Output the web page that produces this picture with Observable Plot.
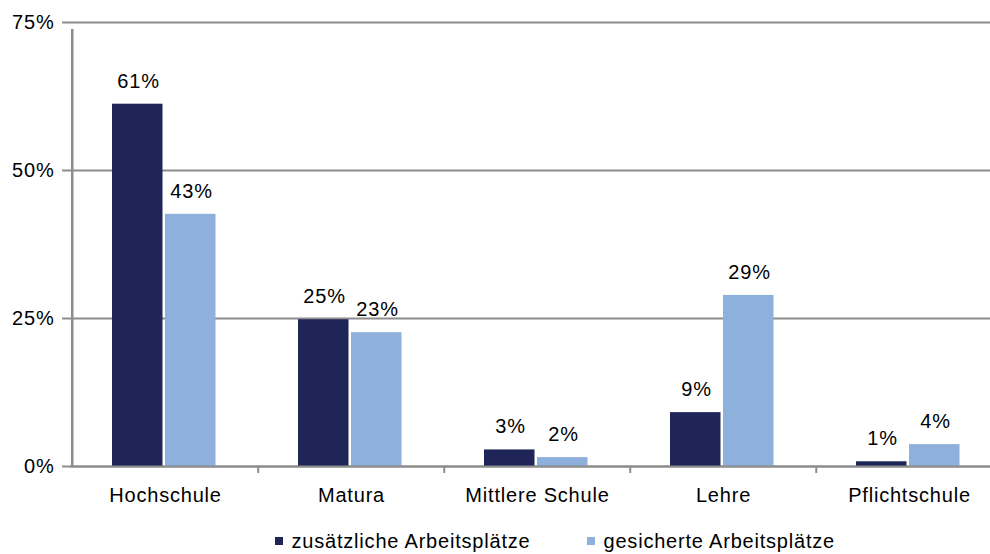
<!DOCTYPE html>
<html><head><meta charset="utf-8">
<script src="https://cdn.jsdelivr.net/npm/d3@7"></script>
<script src="https://cdn.jsdelivr.net/npm/@observablehq/plot@0.6"></script>
<style>
body{margin:0;background:#fff;font-family:"Liberation Sans",Arial,sans-serif;}
#wrap{position:relative;width:990px;height:554px;overflow:hidden;}
#legend{position:absolute;top:530px;left:275px;display:flex;font-size:20px;letter-spacing:0.8px;color:#000;line-height:22px;}
.item{display:flex;align-items:center;}
.sw{width:7.5px;height:7.5px;margin-right:9px;}
</style></head><body>
<div id="wrap"><div id="chart"></div>
<div id="legend">
<div class="item" style="width:312px"><span class="sw" style="background:#1f2557"></span>zusätzliche Arbeitsplätze</div>
<div class="item"><span class="sw" style="background:#8db0dc"></span>gesicherte Arbeitsplätze</div>
</div></div>
<script>
const categories = ["Hochschule","Matura","Mittlere Schule","Lehre","Pflichtschule"];
const seriesNames = ["zusätzliche Arbeitsplätze","gesicherte Arbeitsplätze"];
const zusaetzlich = [61.2, 24.8, 2.8, 9.1, 0.8];
const gesichert = [42.6, 22.6, 1.5, 28.9, 3.7];
const yTicks = [0, 25, 50, 75];

const rowsA = categories.map((c,i)=>({cat:c, v:zusaetzlich[i]}));
const rowsB = categories.map((c,i)=>({cat:c, v:gesichert[i]}));
const dark = "#1f2557", light = "#8db0dc", grid = "#8c8c8c";
const band = 186.5;

const chart = Plot.plot({
  width: 990, height: 520,
  marginLeft: 70, marginRight: 0, marginTop: 22, marginBottom: 54,
  style: {fontFamily: '"Liberation Sans", Arial, sans-serif', fontSize: "20px", color: "#000", letterSpacing: "0.8px", overflow: "hidden"},
  x: {domain: categories, padding: 0, range: [71, 71 + 5 * band], label: null},
  y: {domain: [0, 75], label: null},
  marks: [
    Plot.ruleY(yTicks, {stroke: grid, strokeWidth: 2}),
    Plot.barY(rowsA, {x: "cat", y: "v", fill: dark, insetLeft: 40, insetRight: 95.5}),
    Plot.barY(rowsB, {x: "cat", y: "v", fill: light, insetLeft: 93, insetRight: 42.5}),
    Plot.ruleY([0], {stroke: grid, strokeWidth: 2}),
    Plot.ruleX(categories.slice(1), {x: d=>d, dx: -band/2, y1: 0, y2: 0, insetBottom: -7, stroke: grid, strokeWidth: 2}),
    Plot.ruleX([categories[0]], {x: d=>d, dx: -band/2, y1: 0, y2: 75, insetBottom: -7, stroke: grid, strokeWidth: 2.5}),
    Plot.text(rowsA, {x: "cat", y: "v", text: d=>Math.round(d.v)+"%", dx: -27, dy: -23, fontSize: 20, fill: "#000"}),
    Plot.text(rowsB, {x: "cat", y: "v", text: d=>Math.round(d.v)+"%", dx: 26, dy: -23, fontSize: 20, fill: "#000"}),
    Plot.axisY({ticks: yTicks, tickFormat: d=>d+"%", tickSize: 8, tickPadding: 8, fontSize: 20, stroke: grid, strokeWidth: 2}),
    Plot.axisX({tickSize: 0, tickPadding: 21, fontSize: 20})
  ]
});
document.getElementById("chart").appendChild(chart);
</script></body></html>
